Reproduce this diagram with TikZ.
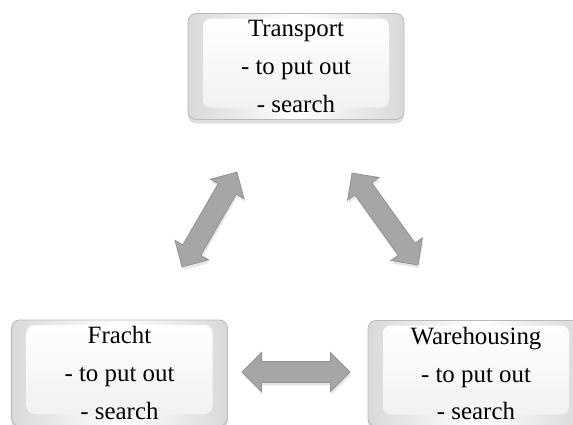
\documentclass[tikz,border=0pt]{standalone}
\usepackage{fontspec}
\setmainfont{Liberation Serif}
\usetikzlibrary{shapes.arrows,shadows,calc}
\begin{document}
\begin{tikzpicture}[x=1bp,y=-1bp,
    key node/.style={rectangle,rounded corners=8bp,draw=gray!55,line width=0.8bp,
      minimum width=216bp,minimum height=106bp,inner sep=0pt,
      left color=gray!30,right color=gray!30,middle color=white,
      drop shadow={shadow xshift=0bp,shadow yshift=-4bp,opacity=0.25},
      align=center,font=\fontsize{25}{38}\selectfont,
      path picture={\shade[top color=white,bottom color=gray!12]
        ($(path picture bounding box.north west)+(15bp,-5bp)$) rectangle
        ($(path picture bounding box.south east)+(-15bp,12bp)$);}},
    flow/.style={double arrow,double arrow head extend=9bp,
      inner xsep=0pt,inner ysep=10bp,fill=gray!70,draw=gray!85,line width=0.8bp,
      drop shadow={shadow xshift=1bp,shadow yshift=-3bp,opacity=0.2}}]
  \useasboundingbox (0,0) rectangle (573,424);
  % boxes
  \node[key node] (transport) at (296,66.5) {Transport\\- to put out\\- search};
  \node[key node] (fracht) at (119.5,373) {Fracht\\- to put out\\- search};
  \node[key node] (warehouse) at (476,373.5) {Warehousing\\- to put out\\- search};
  % arrow ends
  \coordinate (ftA) at (182,267);
  \coordinate (ftB) at (237,172);
  \coordinate (twA) at (352,173);
  \coordinate (twB) at (418,265);
  \coordinate (fwA) at (242,372);
  \coordinate (fwB) at (350,372);
  % block arrows
  \path let \p1=($(ftB)-(ftA)$), \n1={veclen(\x1,\y1)} in
    (ftA) -- node[flow,sloped,minimum height=\n1] {} (ftB);
  \path let \p1=($(twB)-(twA)$), \n1={veclen(\x1,\y1)} in
    (twA) -- node[flow,sloped,minimum height=\n1] {} (twB);
  \path let \p1=($(fwB)-(fwA)$), \n1={veclen(\x1,\y1)} in
    (fwA) -- node[flow,sloped,minimum height=\n1] {} (fwB);
\end{tikzpicture}
\end{document}
